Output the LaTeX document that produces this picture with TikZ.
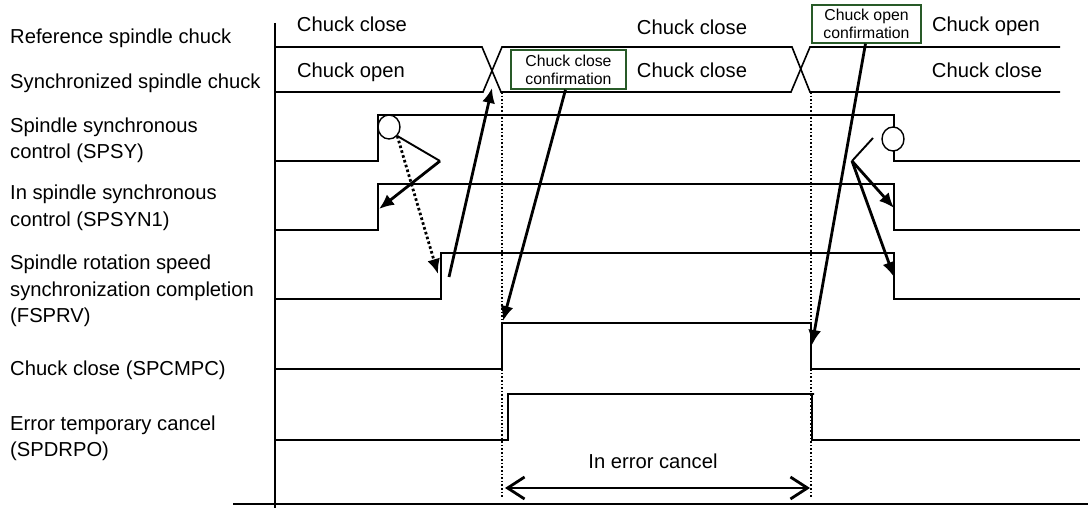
\documentclass[tikz,border=0pt]{standalone}
\usepackage{fontspec}
\setmainfont{Liberation Sans}
\usepackage{xcolor}
\usepackage{tikz}
\usetikzlibrary{arrows.meta,positioning,shapes.geometric}
\definecolor{boxgreen}{RGB}{40,90,40}

\begin{document}
\begin{tikzpicture}[x=1pt, y=-1pt, font=\fontsize{20.2}{26.5}\selectfont, every node/.style={inner sep=0pt}]
        \tikzset{
            sig/.style={line width=1.6pt},
            lbl/.style={anchor=west, align=left},
            val/.style={anchor=base},
            conf/.style={draw=boxgreen, line width=1.4pt, align=center, font=\fontsize{15.8}{18}\selectfont},
            ring/.style={draw, fill=white, ellipse, minimum width=22pt, minimum height=24pt, line width=1.4pt},
            arr/.style={-{Latex[length=15pt,width=13pt]}, line width=2.8pt},
            leg/.style={line width=1.9pt},
            guide/.style={dotted, line width=1.6pt},
            span/.style={{Straight Barb[length=17pt,width=22pt]}-{Straight Barb[length=17pt,width=22pt]}, line width=2.8pt}
        }
        \useasboundingbox (0,0) rectangle (1088,508);
        % signal names
        \node[lbl] (refl) at (10,37.8) {Reference spindle chuck};
        \node[lbl] (syncl) at (10,82.8) {Synchronized spindle chuck};
        \node[lbl] (spsyl) at (10,140.3) {Spindle synchronous\\control (SPSY)};
        \node[lbl] (spsynl) at (10,207.8) {In spindle synchronous\\control (SPSYN1)};
        \node[lbl] (fsprvl) at (10,290.8) {Spindle rotation speed\\synchronization completion\\(FSPRV)};
        \node[lbl] (spcmpcl) at (10,369.8) {Chuck close (SPCMPC)};
        \node[lbl] (spdrpol) at (10,438.3) {Error temporary cancel\\(SPDRPO)};
        % axes
        \draw[sig] (275,23) -- (275,508);
        \draw[sig] (233,504) -- (1088,504);
        % chuck states
        \draw[sig] (275,47) -- (482,47) -- (501,92) -- (791,92) -- (810,47) -- (1060,47);
        \draw[sig] (275,92) -- (483,92) -- (502,47) -- (792,47) -- (810,92) -- (1060,92);
        \node[val] (ref1) at (352,32) {Chuck close};
        \node[val] (ref2) at (692,35) {Chuck close};
        \node[val] (ref3) at (986,32) {Chuck open};
        \node[val] (syn1) at (351,78) {Chuck open};
        \node[val] (syn2) at (692,78) {Chuck close};
        \node[val] (syn3) at (987,78) {Chuck close};
        \node[conf, minimum width=115pt, minimum height=39pt] (closebox) at (568.5,69.5) {Chuck close\\confirmation};
        \node[conf, minimum width=109pt, minimum height=38pt] (openbox) at (866.5,24) {Chuck open\\confirmation};
        % waveforms
        \draw[sig] (275,161) -- (378,161) -- (378,115) -- (894,115) -- (894,161) -- (1080,161);
        \draw[sig] (275,230) -- (378,230) -- (378,184) -- (894,184) -- (894,230) -- (1080,230);
        \draw[sig] (275,299) -- (441,299) -- (441,253) -- (894,253) -- (894,299) -- (1080,299);
        \draw[sig] (275,369) -- (502,369) -- (502,323) -- (811,323) -- (811,369) -- (1080,369);
        \draw[sig] (275,440) -- (508,440) -- (508,394) -- (814,394) -- (812,394) -- (812,440) -- (1080,440);
        \node[ring] (spsyon) at (389,127) {};
        \node[ring] (spsyoff) at (893,139) {};
        % guide lines
        \coordinate (gl) at (502,92);
        \coordinate (gr) at (811,92);
        \coordinate (glb) at (502,497);
        \coordinate (grb) at (811,497);
        \draw[guide] (gl) -- (glb);
        \draw[guide] (gr) -- (grb);
        % arrow ends
        \coordinate (v1) at (440,161);
        \coordinate (v2) at (852,161);
        \coordinate (ve) at (873,138);
        \coordinate (synon) at (379,209);
        \coordinate (prvon) at (438,274);
        \coordinate (synoff) at (894,208);
        \coordinate (prvoff) at (894,277);
        \coordinate (prvdone) at (449,277);
        \coordinate (cross) at (492,88);
        \coordinate (cmpon) at (503,321);
        \coordinate (cmpoff) at (812,345);
        \draw[leg] (spsyon.south east) -- (v1);
        \draw[arr] (v1) -- (synon);
        \draw[arr, dash pattern=on 2.6pt off 2.4pt] (spsyon.south east) -- (prvon);
        \draw[arr] (prvdone) -- (cross);
        \draw[arr] ([xshift=-3pt]closebox.south) -- (cmpon);
        \draw[leg] (ve) -- (v2);
        \draw[arr] (v2) -- (synoff);
        \draw[arr] (v2) -- (prvoff);
        \draw[arr] ([xshift=-1pt]openbox.south) -- (cmpoff);
        % error cancel span
        \coordinate (el) at (505,488);
        \coordinate (er) at (810,488);
        \draw[span] (el) -- (er);
        \node[val] (errtxt) at (653,468) {In error cancel};
    \end{tikzpicture}
\end{document}
